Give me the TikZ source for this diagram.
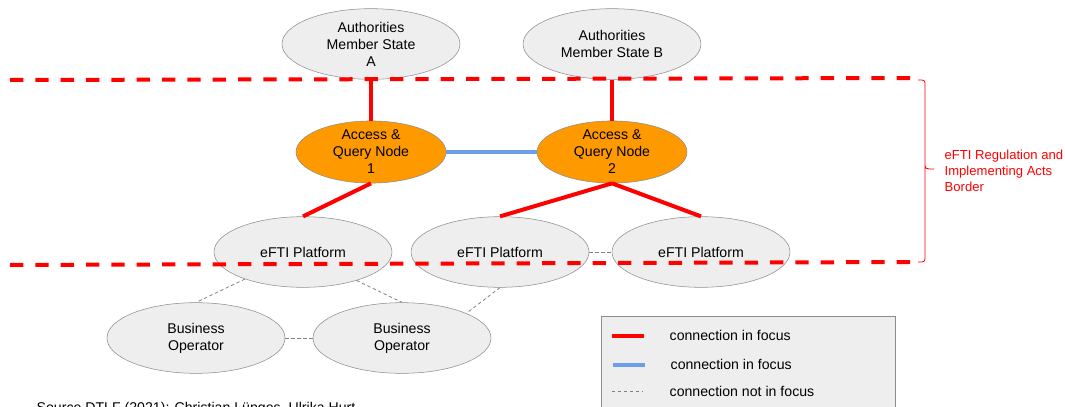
\documentclass[tikz,border=0pt]{standalone}
\usepackage{fontspec}
\setmainfont{Liberation Sans}
\usetikzlibrary{shapes.geometric}
\definecolor{aqorange}{HTML}{FF9900}
\definecolor{focusblue}{HTML}{6D9EEB}
\definecolor{lightfill}{HTML}{EEEEEE}
\begin{document}
\begin{tikzpicture}[x=0.75pt,y=-0.75pt,font=\fontsize{10.6}{12.8}\selectfont,
    party/.style={ellipse,draw=black!45,fill=lightfill,minimum width=133.5pt,minimum height=53pt,align=center,inner sep=0pt},
    aqnode/.style={party,fill=aqorange,minimum width=112.5pt,minimum height=42pt},
    redfocus/.style={red,line width=3pt},
    bluefocus/.style={focusblue,line width=2.6pt},
    notfocus/.style={black!50,dash pattern=on 2.5pt off 2pt,line width=0.6pt},
    border/.style={red,line width=3pt,dash pattern=on 10pt off 9pt}]
        \useasboundingbox (0,0) rectangle (1065,407);
        % nodes
        \node (authA) [party] at (371,44) {Authorities\\Member State\\A};
        \node (authB) [party] at (612,44) {Authorities\\Member State B};
        \node (aqn1) [aqnode] at (371,152) {Access \&\\Query Node\\1};
        \node (aqn2) [aqnode] at (612,152) {Access \&\\Query Node\\2};
        \node (plat1) [party] at (303,252) {eFTI Platform};
        \node (plat2) [party] at (500,252) {eFTI Platform};
        \node (plat3) [party] at (701,252) {eFTI Platform};
        \node (bo1) [party] at (196,338) {Business\\Operator};
        \node (bo2) [party] at (402,338) {Business\\Operator};
        % connections
        \draw [redfocus] (authA) -- (aqn1);
        \draw [redfocus] (authB) -- (aqn2);
        \draw [redfocus] (aqn1.south) -- (plat1.north);
        \draw [redfocus] (aqn2.south) -- (plat2.north);
        \draw [redfocus] (aqn2.south) -- (plat3.north);
        \draw [bluefocus] (aqn1) -- (aqn2);
        \draw [notfocus] (plat2) -- (plat3);
        \draw [notfocus] (plat1.205) -- (bo1.north);
        \draw [notfocus] (plat1.-28) -- (bo2.north);
        \draw [notfocus] (plat2.south) -- (bo2.21);
        \draw [notfocus] (bo1) -- (bo2);
        % border of the regulation
        \draw [border] (10,80) coordinate (t1) -- (915,78) coordinate (t2);
        \draw [border] (10,265) coordinate (b1) -- (915,262) coordinate (b2);
        \draw [red,line width=0.6pt] (918,80) .. controls (925,80) .. (925,86) -- (925,163) .. controls (925,169) .. (934,169)
            (925,163) .. controls (925,169) .. (925,175) -- (925,256) .. controls (925,262) .. (918,262);
        \node (bordertext) [anchor=west,align=left,red,font=\fontsize{9.8}{12}\selectfont] at (940,171) {eFTI Regulation and\\Implementing Acts\\Border};
        % legend
        \draw [black!45,fill=lightfill] (601,316) rectangle (895,430);
        \draw [redfocus] (612,336) coordinate (l1a) -- (644,336) coordinate (l1b);
        \node (l1) [anchor=west] at (665,335) {connection in focus};
        \draw [bluefocus] (613,365) coordinate (l2a) -- (645,365) coordinate (l2b);
        \node (l2) [anchor=west] at (666,364) {connection in focus};
        \draw [notfocus] (612,391) coordinate (l3a) -- (643,391) coordinate (l3b);
        \node (l3) [anchor=west] at (665,391) {connection not in focus};
        \node (source) [anchor=west] at (32,409) {Source DTLF (2021): Christian Lüpges, Ulrika Hurt};
    \end{tikzpicture}
\end{document}
